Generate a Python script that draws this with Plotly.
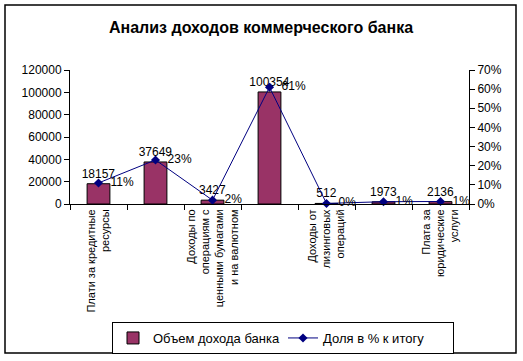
import plotly.graph_objects as go

# ---- data ----
categories = [
    "Плати за кредитные<br>ресурсы",
    "",
    "Доходы по<br>операциям с<br>ценными бумагами<br>и на валютном",
    "",
    "Доходы от<br>лизинговых<br>операций",
    "",
    "Плата за<br>юридические<br>услуги",
]
income = [18157, 37649, 3427, 100354, 512, 1973, 2136]
share = [0.11, 0.23, 0.02, 0.61, 0.003, 0.012, 0.013]
share_labels = ["11%", "23%", "2%", "61%", "0%", "1%", "1%"]
y1_ticks = [0, 20000, 40000, 60000, 80000, 100000, 120000]
y2_ticks = [0, 0.1, 0.2, 0.3, 0.4, 0.5, 0.6, 0.7]

FONT = "Arial, 'Liberation Sans', sans-serif"
idx = list(range(len(income)))

fig = go.Figure()
fig.add_trace(go.Bar(
    x=idx, y=income, name="Объем дохода банка",
    marker=dict(color="#993366", line=dict(color="black", width=1)),
    width=0.4,
    text=[str(v) for v in income], textposition="outside",
    constraintext="none",
    textfont=dict(size=12, color="black", family=FONT),
    cliponaxis=False,
))
fig.add_trace(go.Scatter(
    x=idx, y=share, yaxis="y2", name="Доля в % к итогу",
    mode="lines+markers+text",
    line=dict(color="#000080", width=1),
    marker=dict(symbol="diamond", size=7, color="#000080"),
    text=["\u00a0\u00a0" + s for s in share_labels],
    textposition="middle right",
    textfont=dict(size=12, color="black", family=FONT),
    cliponaxis=False,
))

tickvals = [i for i, c in enumerate(categories) if c]
ticktext = [c for c in categories if c]

fig.update_layout(
    width=523, height=361,
    margin=dict(l=70, r=54, t=70, b=157, autoexpand=False),
    paper_bgcolor="white", plot_bgcolor="white",
    font=dict(family=FONT, size=12, color="black"),
    title=dict(text="<b>Анализ доходов коммерческого банка</b>",
               x=(261 - 70) / 399, xref="paper", xanchor="center",
               y=1 - 27 / 361, yref="container", yanchor="middle",
               font=dict(size=16, color="black", family=FONT)),
    showlegend=True,
    legend=dict(orientation="h", xref="container", yref="container",
                x=112 / 523, y=1 - 322 / 361,
                xanchor="left", yanchor="top",
                bordercolor="black", borderwidth=1,
                entrywidth=125, entrywidthmode="pixels",
                font=dict(size=13, family=FONT)),
    xaxis=dict(range=[-0.5, 6.5], tickmode="array", tickvals=tickvals,
               ticktext=ticktext, tickangle=-90, ticks="", showgrid=False,
               showline=True, linecolor="black", linewidth=1,
               automargin=False,
               tickfont=dict(size=11, family=FONT), zeroline=False,
               minor=dict(tickmode="array",
                          tickvals=[i - 0.5 for i in range(len(income) + 1)],
                          ticks="outside", ticklen=5, tickcolor="black")),
    yaxis=dict(range=[0, 120000], tickmode="array", tickvals=y1_ticks,
               tickformat="d", showgrid=False, showline=True,
               linecolor="black", ticks="outside", ticklen=5,
               tickcolor="black", zeroline=False, automargin=False,
               tickfont=dict(size=12, family=FONT)),
    yaxis2=dict(range=[0, 0.7], overlaying="y", side="right",
                tickmode="array", tickvals=y2_ticks, tickformat=".0%",
                showgrid=False, showline=True, linecolor="black",
                ticks="outside", ticklen=5, tickcolor="black",
                zeroline=False, automargin=False,
                tickfont=dict(size=12, family=FONT)),
    shapes=[dict(type="rect", xref="paper", yref="paper",
                 x0=(5 - 70) / 399, x1=(516 - 70) / 399,
                 y0=(204 - 353) / 134, y1=(204 - 5) / 134,
                 line=dict(color="black", width=1.5))],
)

fig.write_html("out.html",
               config={"displayModeBar": False},
               post_script="document.body.style.margin='0';"
                           "document.body.style.overflow='hidden';")
